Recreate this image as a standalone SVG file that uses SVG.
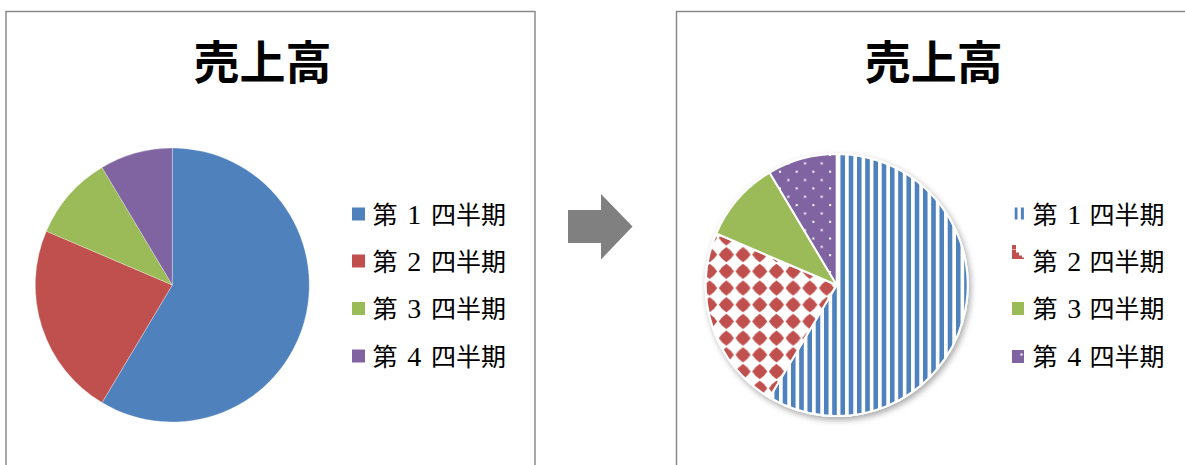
<svg xmlns="http://www.w3.org/2000/svg" width="1185" height="465" viewBox="0 0 1185 465">
<style>
.frame{fill:#fff;stroke:#8a8a8a;stroke-width:1.5}
.title{font-family:"Noto Sans CJK JP","Noto Sans CJK SC",sans-serif;font-size:46px;font-weight:bold;fill:#000;text-anchor:middle}
.leg{font-family:"Noto Sans CJK JP","Noto Sans CJK SC",sans-serif;font-size:25px;fill:#000}
.num{font-family:"Liberation Serif","DejaVu Serif",serif;font-size:28px}
.q1{fill:#4F81BD}.q2{fill:#C0504D}.q3{fill:#9BBB59}.q4{fill:#8064A2}
.ls{stroke:#ffffff;stroke-width:0.6;stroke-opacity:0.5}
.rs{stroke:#ffffff;stroke-width:2;stroke-linejoin:round}
</style>
<defs>
<pattern id="pStripe" patternUnits="userSpaceOnUse" x="881.7" y="0" width="8.25" height="10">
<rect width="8.25" height="10" fill="#fff"/>
<rect width="4.6" height="10" fill="#4F81BD"/>
</pattern>
<pattern id="pDiamond" patternUnits="userSpaceOnUse" x="718" y="263" width="16.7" height="16.7">
<rect width="16.7" height="16.7" fill="#fff"/>
<polygon points="8.35,0.8 12.6,4.1 15.9,8.35 12.6,12.6 8.35,15.9 4.1,12.6 0.8,8.35 4.1,4.1" fill="#C0504D"/>
</pattern>
<pattern id="pDots" patternUnits="userSpaceOnUse" x="779" y="170.7" width="16.7" height="16.7">
<rect width="16.7" height="16.7" fill="#8064A2"/>
<rect x="0" y="0" width="2" height="2" fill="#fff"/>
<rect x="8.35" y="8.35" width="2" height="2" fill="#fff"/>
</pattern>
<filter id="shadow" x="-20%" y="-20%" width="140%" height="140%">
<feDropShadow dx="2" dy="3" stdDeviation="3" flood-color="#000" flood-opacity="0.35"/>
</filter>
</defs>

<g id="left-chart">
<rect class="frame" x="6" y="11.5" width="529" height="470"/>
<text class="title" x="262.5" y="79">売上高</text>
<g id="left-pie">
<path class="q1 ls" d="M172.3,285 L172.3,148 A137,137 0 1,1 102.03,402.61 Z"/>
<path class="q2 ls" d="M172.3,285 L102.03,402.61 A137,137 0 0,1 46.33,231.16 Z"/>
<path class="q3 ls" d="M172.3,285 L46.33,231.16 A137,137 0 0,1 102.03,167.39 Z"/>
<path class="q4 ls" d="M172.3,285 L102.03,167.39 A137,137 0 0,1 172.3,148 Z"/>
</g>
<g id="left-legend">
<rect class="q1" x="352" y="207.5" width="13" height="13"/>
<text class="leg" y="223.5"><tspan x="372.5">第 </tspan><tspan class="num" x="407.2">1 </tspan><tspan x="431">四半期</tspan></text>
<rect class="q2" x="352" y="254.5" width="13" height="13"/>
<text class="leg" y="270.5"><tspan x="372.5">第 </tspan><tspan class="num" x="407.2">2 </tspan><tspan x="431">四半期</tspan></text>
<rect class="q3" x="352" y="302" width="13" height="13"/>
<text class="leg" y="318"><tspan x="372.5">第 </tspan><tspan class="num" x="407.2">3 </tspan><tspan x="431">四半期</tspan></text>
<rect class="q4" x="352" y="349.5" width="13" height="13"/>
<text class="leg" y="365.5"><tspan x="372.5">第 </tspan><tspan class="num" x="407.2">4 </tspan><tspan x="431">四半期</tspan></text>
</g>
</g>

<g id="connectors">
<polygon id="arrow" points="568,210 601,210 601,194 632.5,226.5 601,259.5 601,243 568,243" fill="#808080"/>
</g>

<g id="right-chart">
<rect class="frame" x="676.5" y="11.5" width="520" height="470"/>
<text class="title" x="933.7" y="79">売上高</text>
<g id="right-pie">
<circle cx="836.7" cy="285" r="132" fill="#fff" filter="url(#shadow)"/>
<path class="rs" fill="url(#pStripe)" d="M836.7,285 L836.7,154 A131,131 0 1,1 769.51,397.46 Z"/>
<path class="rs" fill="url(#pDiamond)" d="M836.7,285 L769.51,397.46 A131,131 0 0,1 716.25,233.52 Z"/>
<path class="rs q3" d="M836.7,285 L716.25,233.52 A131,131 0 0,1 769.51,172.54 Z"/>
<path class="rs" fill="url(#pDots)" d="M836.7,285 L769.51,172.54 A131,131 0 0,1 836.7,154 Z"/>
</g>
<g id="right-legend">
<rect x="1014.7" y="207.5" width="2.8" height="12" fill="#4F81BD"/>
<rect x="1020.9" y="207.5" width="3" height="12" fill="#4F81BD"/>
<text class="leg" y="223.5"><tspan x="1032.5">第 </tspan><tspan class="num" x="1067.2">1 </tspan><tspan x="1089.5">四半期</tspan></text>
<path d="M1012,245 h4 v4 h-4 z M1012,249.5 h4 v3 h3 v3 h3 v2 h2 v1.5 h-12 z" fill="#C0504D"/>
<text class="leg" y="270.5"><tspan x="1032.5">第 </tspan><tspan class="num" x="1067.2">2 </tspan><tspan x="1089.5">四半期</tspan></text>
<rect class="q3" x="1012" y="302" width="12" height="13"/>
<text class="leg" y="318"><tspan x="1032.5">第 </tspan><tspan class="num" x="1067.2">3 </tspan><tspan x="1089.5">四半期</tspan></text>
<rect class="q4" x="1012" y="350" width="12" height="13"/>
<rect x="1020.5" y="353.5" width="2" height="2" fill="#fff"/>
<text class="leg" y="365.5"><tspan x="1032.5">第 </tspan><tspan class="num" x="1067.2">4 </tspan><tspan x="1089.5">四半期</tspan></text>
</g>
</g>
</svg>
